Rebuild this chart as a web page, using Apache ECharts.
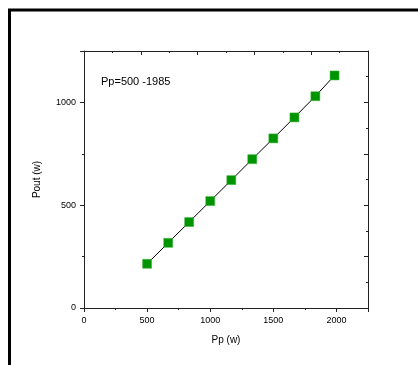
<!DOCTYPE html>
<html>
<head>
<meta charset="utf-8">
<script src="https://cdn.jsdelivr.net/npm/echarts@6/dist/echarts.min.js"></script>
<style>
  html, body { margin: 0; padding: 0; background: #fff; }
  #chart { width: 418px; height: 365px; }
</style>
</head>
<body>
<div id="chart"></div>
<script>
// pump power vs output power
const ppValues = [500, 667, 833, 1000, 1167, 1333, 1500, 1667, 1833, 1985];
const poutValues = [215, 317, 418, 520, 622, 724, 825, 927, 1030, 1131];
const noteText = "Pp=500 -1985";

const font = "Liberation Sans, Arial, sans-serif";
const axisColor = "#222";
const green = "#009400";

const chart = echarts.init(document.getElementById("chart"));

const baseAxis = {
    axisLine: { show: true, onZero: false, lineStyle: { color: axisColor, width: 1 } },
    splitLine: { show: false },
    axisLabel: {
        color: "#000",
        fontFamily: font,
        fontSize: 9,
        showMaxLabel: false,
        formatter: v => String(v)
    }
};

chart.setOption({
    animation: false,
    grid: { left: 84, right: 50, top: 51, bottom: 57 },
    graphic: [
        {
            type: "polyline",
            shape: { points: [[9.5, 365], [9.5, 10], [418, 10]] },
            style: { stroke: "#000", lineWidth: 3, fill: null }
        },
        {
            type: "text",
            left: 101,
            top: 76,
            style: { text: noteText, fill: "#000", font: "11px " + font }
        }
    ],
    xAxis: [
        {
            ...baseAxis,
            type: "value",
            position: "bottom",
            min: 0,
            max: 2250,
            interval: 500,
            name: "Pp (w)",
            nameLocation: "middle",
            nameGap: 27,
            nameTextStyle: { color: "#000", fontFamily: font, fontSize: 10 },
            axisTick: { show: true, inside: false, length: 4, lineStyle: { color: axisColor } },
            minorTick: { show: true, splitNumber: 2, length: 2, lineStyle: { color: axisColor } }
        },
        {
            ...baseAxis,
            type: "value",
            position: "top",
            min: 0,
            max: 2250,
            interval: 450,
            axisLabel: { show: false },
            axisTick: { show: true, inside: true, length: 4, lineStyle: { color: axisColor } },
            minorTick: { show: true, splitNumber: 2, length: 2, lineStyle: { color: axisColor } }
        }
    ],
    yAxis: [
        {
            ...baseAxis,
            type: "value",
            position: "left",
            min: 0,
            max: 1250,
            interval: 500,
            name: "Pout (w)",
            nameLocation: "middle",
            nameGap: 42,
            nameTextStyle: { color: "#000", fontFamily: font, fontSize: 10 },
            axisTick: { show: true, inside: false, length: 4, lineStyle: { color: axisColor } },
            minorTick: { show: true, splitNumber: 2, length: 2, lineStyle: { color: axisColor } }
        },
        {
            ...baseAxis,
            type: "value",
            position: "right",
            min: 0,
            max: 1250,
            interval: 250,
            axisLabel: { show: false },
            axisTick: { show: true, inside: true, length: 4, lineStyle: { color: axisColor } },
            minorTick: { show: true, splitNumber: 2, length: 2, lineStyle: { color: axisColor } }
        }
    ],
    series: [
        {
            type: "line",
            data: ppValues.map((x, i) => [x, poutValues[i]]),
            symbol: "rect",
            symbolSize: 9,
            itemStyle: { color: green, borderColor: "#3cb43c", borderWidth: 0.5 },
            lineStyle: { color: "#000", width: 1 },
            z: 3
        }
    ]
});
</script>
</body>
</html>
